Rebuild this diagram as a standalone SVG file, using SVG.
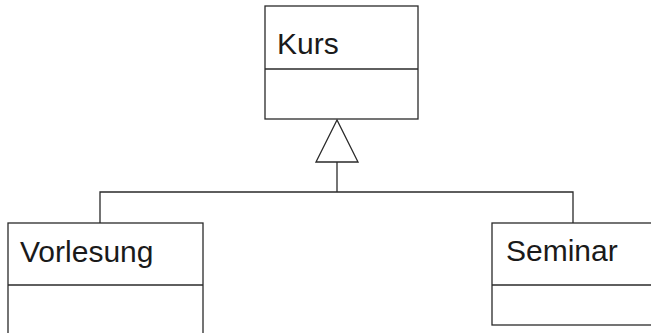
<svg xmlns="http://www.w3.org/2000/svg" width="651" height="333" viewBox="0 0 651 333">
<style>
.box{fill:#fff;stroke:#2a2a2a;stroke-width:1.3}
.line{fill:none;stroke:#2a2a2a;stroke-width:1.3}
.lbl{font-family:"Liberation Sans",Arial,sans-serif;font-size:30px;fill:#1a1a1a}
</style>
<rect width="651" height="333" fill="#fff"/>
<g id="connectors">
<polyline class="line" points="100,223 100,192 573,192 573,223"/>
<line class="line" x1="337" y1="162" x2="337" y2="192"/>
<polygon class="box" points="337,120 316,162 358,162"/>
</g>
<g id="kurs">
<rect class="box" x="265" y="6" width="153" height="113"/>
<line class="line" x1="265" y1="69" x2="418" y2="69"/>
<text class="lbl" x="277" y="54">Kurs</text>
</g>
<g id="vorlesung">
<rect class="box" x="8" y="223" width="195" height="130"/>
<line class="line" x1="8" y1="285" x2="203" y2="285"/>
<text class="lbl" x="20" y="262">Vorlesung</text>
</g>
<g id="seminar">
<rect class="box" x="492" y="223" width="170" height="102"/>
<line class="line" x1="492" y1="285" x2="651" y2="285"/>
<text class="lbl" x="506" y="261">Seminar</text>
</g>
</svg>
